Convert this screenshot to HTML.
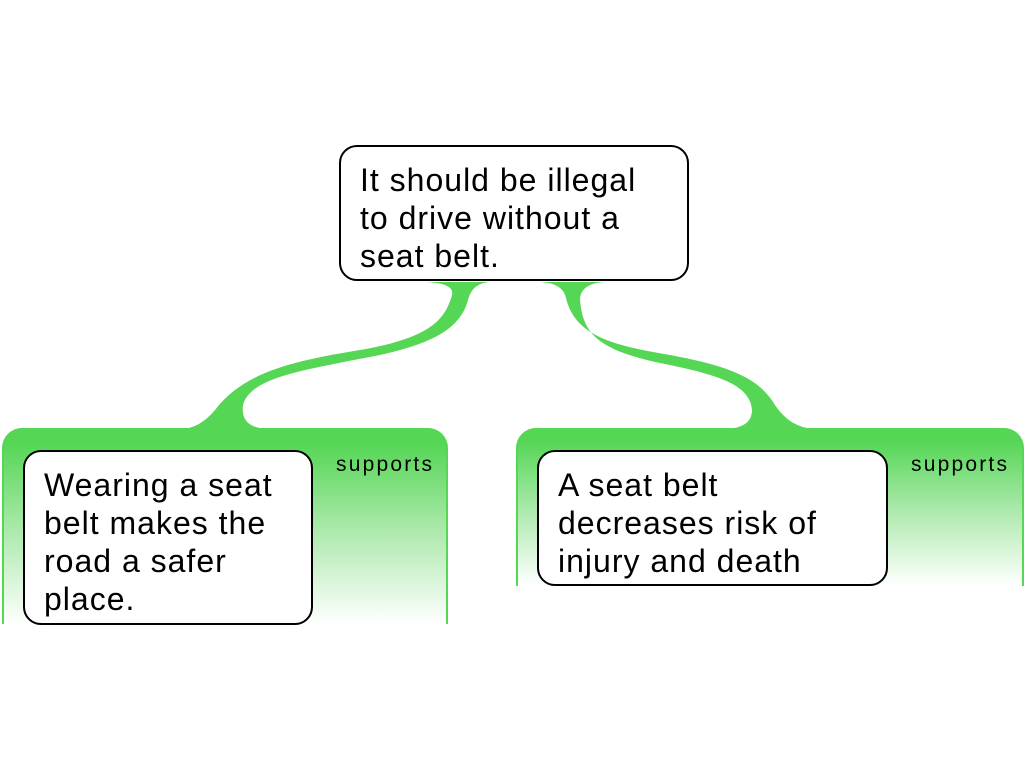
<!DOCTYPE html>
<html><head><style>
body{margin:0;width:1024px;height:768px;background:#fff;position:relative;overflow:hidden;font-family:"Liberation Sans",sans-serif;}
.box{position:absolute;background:#fff;border:2px solid #000;border-radius:18px;box-sizing:border-box;font-size:32px;letter-spacing:1px;line-height:38px;color:#000;padding:14px 0 0 19px;white-space:nowrap;}
.reg{position:absolute;border-left:2px solid #55d655;border-right:2px solid #55d655;border-radius:20px 20px 0 0;background:linear-gradient(#55d655 0%,#55d655 8%,#a8e8a8 50%,#ffffff 100%);box-sizing:border-box;}
.lab{position:absolute;font-size:21px;letter-spacing:2.2px;color:#000;}
</style></head><body>
<div class="reg" style="left:2px;top:428px;width:446px;height:196px;"></div>
<div class="reg" style="left:516px;top:428px;width:508px;height:158px;"></div>
<svg width="1024" height="768" style="position:absolute;left:0;top:0">
<g fill="#55d655">
<path d="M182,429 Q200,428 215,410 C245,370 300,360 360,350 C430,338 445,320 452,295 Q455,283 425,282 L490,282 Q472,283 468,300 C460,330 430,345 370,357 C290,372 250,380 243,405 Q240,428 268,429 Z"/>
<path d="M540,282 Q563,283 566,298 C575,335 610,345 670,355 C735,367 760,380 775,405 Q790,428 815,429 L725,429 Q752,428 752,410 C750,385 720,375 660,363 C600,350 582,335 580,298 Q582,283 605,282 Z"/>
</g>
</svg>
<div class="box" style="left:339px;top:145px;width:350px;height:136px;">It should be illegal<br>to drive without a<br>seat belt.</div>
<div class="box" style="left:23px;top:450px;width:290px;height:175px;">Wearing a seat<br>belt makes the<br>road a safer<br>place.</div>
<div class="box" style="left:537px;top:450px;width:351px;height:136px;">A seat belt<br>decreases risk of<br>injury and death</div>
<div class="lab" style="left:336px;top:453px;">supports</div>
<div class="lab" style="left:911px;top:453px;">supports</div>
</body></html>
